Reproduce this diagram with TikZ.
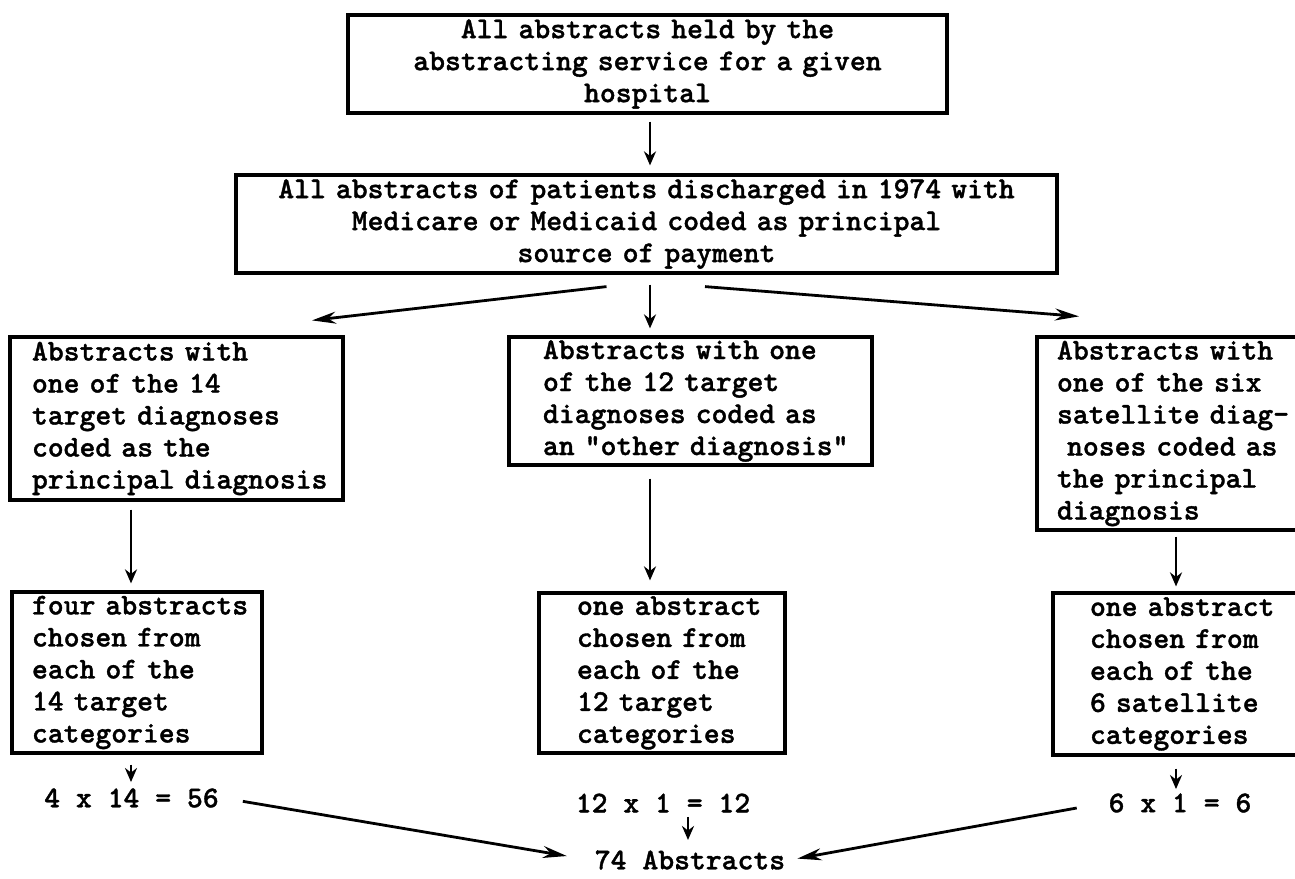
\documentclass[tikz,border=0pt]{standalone}
\usepackage{fontspec}
\setmonofont{lmmonolt10-bold.otf}[FakeBold=1.2]
\usetikzlibrary{arrows.meta, positioning, calc}

\begin{document}
\begin{tikzpicture}[
            x=0.5pt, y=-0.5pt,
            every node/.style={font=\fontsize{15.1}{16}\selectfont\ttfamily},
            box/.style={draw, line width=1.6pt, inner ysep=0pt, align=left},
            centrebox/.style={box, align=center, inner xsep=10pt},
            count/.style={inner sep=2pt},
            flow/.style={-{Stealth[length=7pt, width=6pt]}, line width=1.4pt},
            slant/.style={flow, -{Stealth[length=12pt, width=6pt]}}
        ]
        \useasboundingbox (0,0) rectangle (1295,878);

        % Columns of the vertical arrows
        \coordinate (lcol) at (131,0);
        \coordinate (midcol) at (650,0);
        \coordinate (rcol) at (1176,0);
        \coordinate (sumcol) at (688,0);

        % Top of the tree
        \node[centrebox, text width=279.5pt, minimum height=49pt] (held) at (647.5,64)
            {All abstracts held by the\\ abstracting service for a given\\ hospital};
        \node[centrebox, text width=390.5pt, minimum height=49pt] (medic) at (646.5,224)
            {All abstracts of patients discharged in 1974 with\\ Medicare or Medicaid coded as principal\\ source of payment};

        % Three groups of diagnoses
        \node[box, inner xsep=11pt, text width=144.5pt, minimum height=81.5pt] (tgtprin) at (176.5,418.5)
            {\mbox{Abstracts with}\\ \mbox{one of the 14}\\ \mbox{target diagnoses}\\ \mbox{coded as the}\\ \mbox{principal diagnosis}};
        \node[box, inner xsep=17pt, text width=147.5pt, minimum height=64pt] (tgtother) at (690.5,401)
            {\mbox{Abstracts with one}\\ \mbox{of the 12 target}\\ \mbox{diagnoses coded as}\\ \mbox{an "other diagnosis"}};
        \node[box, inner xsep=10pt, text width=116.5pt, minimum height=96.5pt] (satprin) at (1173.5,433.5)
            {\mbox{Abstracts with}\\ \mbox{one of the six}\\ \mbox{satellite diag-}\\ \mbox{\ noses coded as}\\ \mbox{the principal}\\ \mbox{diagnosis}};

        % Samples
        \node[box, inner xsep=10pt, text width=105pt, minimum height=80.5pt] (four) at (137,672.5)
            {\mbox{four abstracts}\\ \mbox{chosen from}\\ \mbox{each of the}\\ \mbox{14 target}\\ \mbox{categories}};
        \node[box, inner xsep=19pt, text width=85pt, minimum height=80pt] (onetgt) at (662,673)
            {\mbox{one abstract}\\ \mbox{chosen from}\\ \mbox{each of the}\\ \mbox{12 target}\\ \mbox{categories}};
        \node[box, inner xsep=18.5pt, text width=91.5pt, minimum height=81pt] (onesat) at (1181.5,674)
            {\mbox{one abstract}\\ \mbox{chosen from}\\ \mbox{each of the}\\ \mbox{6 satellite}\\ \mbox{categories}};

        % Counts
        \node[count] (n56) at (131.5,798) {4 x 14 = 56};
        \node[count] (n12) at (663,803) {12 x 1 = 12};
        \node[count] (n6) at (1180,803) {6 x 1 = 6};
        \node[count] (total) at (690,860) {74 Abstracts};

        % Arrows
        \draw[flow, shorten <=3.5pt, shorten >=4pt] (held.south -| midcol) -- (medic.north -| midcol);
        \draw[slant] ($(medic.south)+(-40,12)$) -- ($(tgtprin.north)+(135.5,-15)$);
        \draw[flow, shorten <=5pt, shorten >=3.5pt] (medic.south -| midcol) -- (tgtother.north -| midcol);
        \draw[slant] ($(medic.south)+(58.5,12)$) -- ($(satprin.north)+(-94.5,-19)$);

        \draw[flow, shorten <=4pt, shorten >=3.5pt] (tgtprin.south -| lcol) -- (four.north -| lcol);
        \draw[flow, shorten <=6pt, shorten >=5.5pt] (tgtother.south -| midcol) -- (onetgt.north -| midcol);
        \draw[flow, shorten <=2.5pt, shorten >=2.5pt] (satprin.south -| rcol) -- (onesat.north -| rcol);

        \draw[flow, shorten <=5pt, shorten >=1pt] (four.south -| lcol) -- (n56.north -| lcol);
        \draw[flow, shorten <=6pt, shorten >=0pt] (onesat.south -| rcol) -- (n6.north -| rcol);
        \draw[flow, shorten <=0pt, shorten >=3pt] (n12.south -| sumcol) -- (total.north -| sumcol);

        \draw[slant, shorten <=10pt, shorten >=12pt] (n56.east) -- (total.west);
        \draw[slant, shorten <=14pt, shorten >=4pt] (n6.west) -- (total.east);
\end{tikzpicture}
\end{document}
